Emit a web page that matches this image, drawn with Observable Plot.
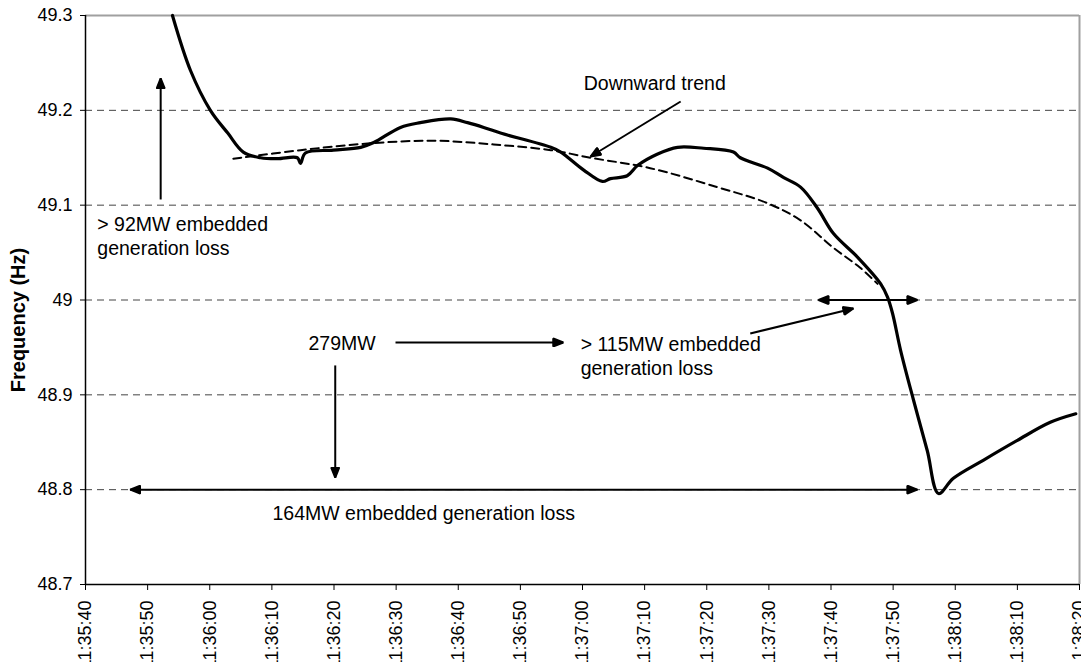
<!DOCTYPE html>
<html>
<head>
<meta charset="utf-8">
<script src="https://cdn.jsdelivr.net/npm/d3@7"></script>
<script src="https://cdn.jsdelivr.net/npm/@observablehq/plot@0.6"></script>
<style>
  html, body { margin: 0; padding: 0; background: #fff; }
  #chart { width: 1081px; height: 662px; overflow: hidden; }
</style>
</head>
<body>
<div id="chart"></div>
<script>
// ---- data (seconds after 11:35:40, frequency in Hz) ----
const baseTime = "11:35:40";
const freqSeconds = [14.0, 16.9, 20.1, 22.9, 25.4, 28.2, 30.9, 34.1, 34.6, 35.4, 39.9, 44.3, 46.4, 50.7, 53.9, 58.8, 61.5, 64.1, 66.8, 74.9, 76.5, 80.2, 83.2, 84.5, 87.2, 88.9, 92.1, 95.3, 99.5, 104.3, 105.4, 109.8, 112.4, 115.1, 117.8, 120.4, 124.3, 128.0, 129.1, 129.9, 131.2, 133.3, 135.5, 137.3, 139.7, 144.5, 150.0, 155.3, 159.4];
const freqValues = [49.300, 49.242, 49.200, 49.176, 49.156, 49.150, 49.149, 49.150, 49.144, 49.155, 49.158, 49.161, 49.166, 49.182, 49.187, 49.191, 49.187, 49.182, 49.176, 49.161, 49.156, 49.137, 49.125, 49.128, 49.131, 49.142, 49.154, 49.161, 49.160, 49.156, 49.150, 49.139, 49.129, 49.119, 49.097, 49.070, 49.045, 49.017, 49.003, 48.986, 48.947, 48.894, 48.841, 48.796, 48.812, 48.831, 48.852, 48.871, 48.880];
const trendSeconds = [23.8, 34.6, 45.4, 56.0, 65.7, 74.9, 81.3, 90.9, 101.7, 109.8, 115.1, 120.4, 124.7, 127.5];
const trendValues = [49.149, 49.158, 49.165, 49.168, 49.164, 49.158, 49.150, 49.139, 49.119, 49.102, 49.084, 49.055, 49.034, 49.017];
const xTickLabels = ["11:35:40","11:35:50","11:36:00","11:36:10","11:36:20","11:36:30","11:36:40","11:36:50","11:37:00","11:37:10","11:37:20","11:37:30","11:37:40","11:37:50","11:38:00","11:38:10","11:38:20"];
const yTicks = [48.7, 48.8, 48.9, 49.0, 49.1, 49.2, 49.3];
const gridValues = [48.8, 48.9, 49.0, 49.1, 49.2];

// annotations: text labels (left-aligned)
const noteTexts = ["> 92MW embedded\ngeneration loss", "Downward trend", "279MW", "> 115MW embedded\ngeneration loss", "164MW embedded generation loss"];
const noteSeconds = [1.9, 80.2, 35.9, 79.7, 30.1];
const noteValues = [49.0685, 49.2304, 48.9552, 48.942, 48.776];

// annotations: arrows (single head at end)
const arrowSec1 = [12.1, 95.8, 49.9, 40.2, 107.0];
const arrowVal1 = [49.106, 49.2093, 48.9552, 48.931, 48.9647];
const arrowSec2 = [12.1, 81.3, 76.9, 40.2, 123.6];
const arrowVal2 = [49.2336, 49.1513, 48.9552, 48.8128, 48.991];
// double-headed arrows
const dblSec1 = [118.0, 7.2];
const dblSec2 = [133.9, 133.9];
const dblVal = [49.0, 48.8];

// ---- helpers ----
const base = (() => { const [h, m, s] = baseTime.split(":").map(Number); return Date.UTC(2000, 0, 1, h, m, s); })();
const T = (sec) => new Date(base + sec * 1000);
const parseTick = (str) => { const [h, m, s] = str.split(":").map(Number); return new Date(Date.UTC(2000, 0, 1, h, m, s)); };
const xTicks = xTickLabels.map(parseTick);

const freq = freqSeconds.map((s, i) => ({t: T(s), v: freqValues[i]}));
const trend = trendSeconds.map((s, i) => ({t: T(s), v: trendValues[i]}));
const notes = noteTexts.map((txt, i) => ({t: T(noteSeconds[i]), v: noteValues[i], text: txt}));
const arrows = arrowSec1.map((s, i) => ({t1: T(s), v1: arrowVal1[i], t2: T(arrowSec2[i]), v2: arrowVal2[i]}));
const dbl = dblSec1.map((s, i) => ({t1: T(s), t2: T(dblSec2[i]), v: dblVal[i]}));

function head(color, context) {
  const doc = (context && context.document) || document;
  const ns = "http://www.w3.org/2000/svg";
  const m = doc.createElementNS(ns, "marker");
  m.setAttribute("viewBox", "-11 -5 12 10");
  m.setAttribute("markerWidth", 12);
  m.setAttribute("markerHeight", 10);
  m.setAttribute("markerUnits", "userSpaceOnUse");
  m.setAttribute("refX", 0);
  m.setAttribute("refY", 0);
  m.setAttribute("orient", "auto-start-reverse");
  const p = doc.createElementNS(ns, "path");
  p.setAttribute("d", "M0,0L-10,-4L-10,4Z");
  p.setAttribute("fill", color);
  m.appendChild(p);
  return m;
}

const font = "'Liberation Sans', Arial, Helvetica, sans-serif";

const chart = Plot.plot({
  width: 1081,
  height: 662,
  marginLeft: 85,
  marginRight: 2,
  marginTop: 15,
  marginBottom: 78,
  style: {fontFamily: font, fontSize: "18px", background: "#fff", color: "#000"},
  x: {type: "utc", domain: [parseTick(xTickLabels[0]), parseTick(xTickLabels[xTickLabels.length - 1])]},
  y: {domain: [48.7, 49.3]},
  marks: [
    Plot.ruleY(gridValues, {stroke: "#444", strokeWidth: 1, strokeDasharray: "7,5"}),
    Plot.ruleY([49.3], {stroke: "#a0a0a0", strokeWidth: 2}),
    Plot.ruleX([parseTick(xTickLabels[xTickLabels.length - 1])], {stroke: "#a0a0a0", strokeWidth: 2}),
    Plot.ruleX([parseTick(xTickLabels[0])], {stroke: "#000", strokeWidth: 1.5}),
    Plot.ruleY([48.7], {stroke: "#000", strokeWidth: 1.5}),
    Plot.axisX({
      ticks: xTicks, tickFormat: d3.utcFormat("%H:%M:%S"), tickRotate: -90,
      tickSize: 6, tickPadding: 10, fontSize: 18, label: null, stroke: "#000"
    }),
    Plot.axisY({
      ticks: yTicks, tickFormat: d => String(+d.toFixed(1)),
      tickSize: 5, tickPadding: 8, fontSize: 18, label: null, stroke: "#000"
    }),
    Plot.text(["Frequency (Hz)"], {
      frameAnchor: "left", textAnchor: "middle", dx: -67, dy: 20, rotate: -90,
      fontWeight: "bold", fontSize: 20, fill: "#000"
    }),
    Plot.line(trend, {x: "t", y: "v", stroke: "#000", strokeWidth: 2, strokeDasharray: "8,5", curve: "catmull-rom"}),
    Plot.line(freq, {x: "t", y: "v", stroke: "#000", strokeWidth: 3.2, curve: "catmull-rom", strokeLinejoin: "round"}),
    Plot.link(arrows, {x1: "t1", y1: "v1", x2: "t2", y2: "v2", stroke: "#000", strokeWidth: 2, markerEnd: head}),
    Plot.link(dbl, {x1: "t1", y1: "v", x2: "t2", y2: "v", stroke: "#000", strokeWidth: 2, markerStart: head, markerEnd: head}),
    Plot.text(notes, {
      x: "t", y: "v", text: "text", textAnchor: "start", lineAnchor: "middle",
      lineHeight: 1.28, fontSize: 19.5, fill: "#000"
    })
  ]
});
document.getElementById("chart").appendChild(chart);
</script>
</body>
</html>
